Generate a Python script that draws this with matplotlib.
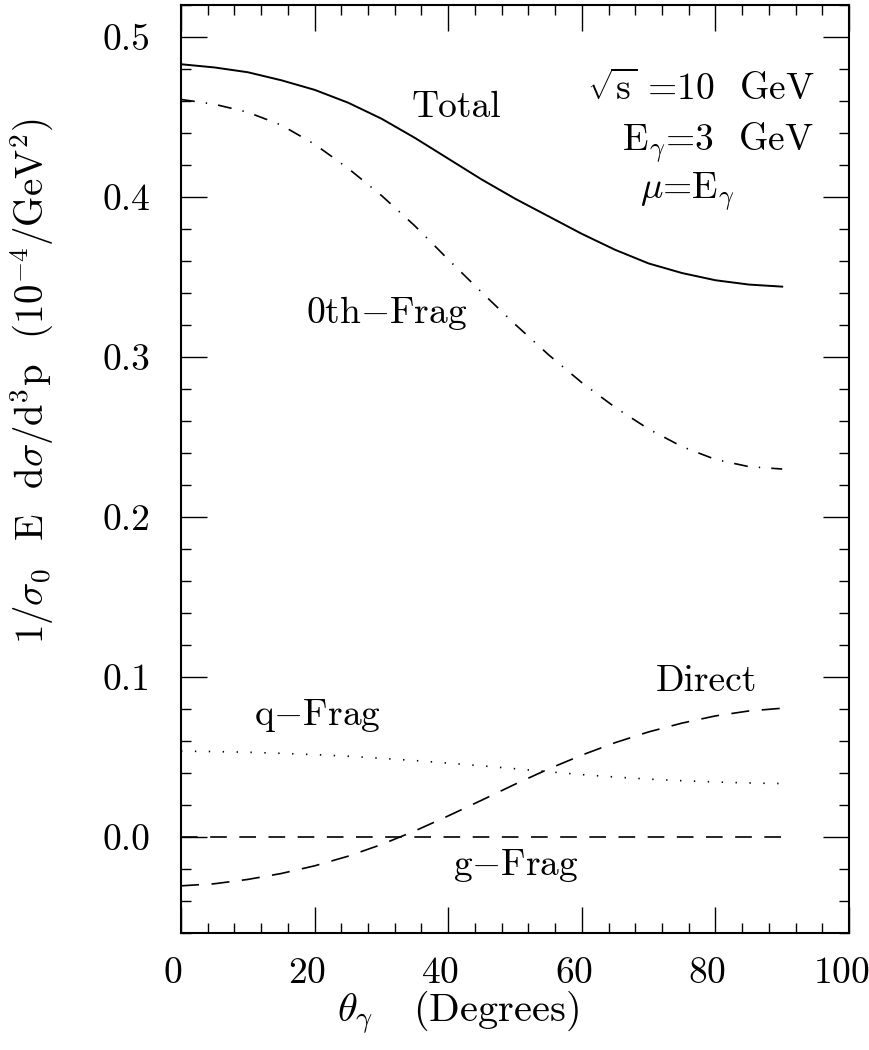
import numpy as np
import matplotlib
matplotlib.use("Agg")
import matplotlib.pyplot as plt
from matplotlib.ticker import MultipleLocator, FormatStrFormatter
from matplotlib.transforms import ScaledTranslation

plt.rcParams["font.family"] = ["cmr10", "DejaVu Serif"]
plt.rcParams["mathtext.fontset"] = "cm"
plt.rcParams["axes.formatter.use_mathtext"] = True
plt.rcParams["lines.scale_dashes"] = False

# photon angle grid (degrees) and the curves on it
theta = [0, 5, 10, 15, 20, 25, 30, 35, 40, 45, 50, 55, 60, 65, 70, 75, 80, 85, 90]
total = [0.483, 0.481, 0.478, 0.473, 0.467, 0.459, 0.449, 0.437, 0.424, 0.411,
         0.399, 0.388, 0.377, 0.367, 0.3585, 0.3525, 0.348, 0.3453, 0.344]
frag0 = [0.461, 0.458, 0.453, 0.445, 0.433, 0.418, 0.401, 0.382, 0.361, 0.3405,
         0.3205, 0.3015, 0.284, 0.2685, 0.255, 0.244, 0.236, 0.2315, 0.230]
qfrag = [0.0537, 0.0534, 0.0530, 0.0523, 0.0515, 0.0505, 0.0492, 0.0478, 0.0462, 0.0445,
         0.0427, 0.0408, 0.0390, 0.0375, 0.0362, 0.0352, 0.0344, 0.0338, 0.0334]
direct = [-0.0305, -0.0292, -0.0265, -0.0228, -0.0180, -0.0120, -0.0047, 0.0038, 0.0132, 0.0230,
          0.0330, 0.0425, 0.0512, 0.0590, 0.0657, 0.0712, 0.0757, 0.0788, 0.0805]
gfrag = [0.0] * len(theta)

fig = plt.figure(figsize=(8.69, 10.5), dpi=100)
ax = fig.add_axes([0.2083, 0.1114, 0.7687, 0.8838])

ax.plot(theta, total, color="black", lw=1.4)
ax.plot(theta, frag0, color="black", lw=1.2, dashes=(10, 8, 1, 8))
ax.plot(theta, qfrag, color="black", lw=1.2, dashes=(1, 9))
ax.plot(theta, direct, color="black", lw=1.2, dashes=(13, 9))
ax.plot(theta, gfrag, color="black", lw=1.2, dashes=(12, 9))

ax.set_xlim(0, 100)
ax.set_ylim(-0.06, 0.52)
ax.xaxis.set_major_locator(MultipleLocator(20))
ax.xaxis.set_minor_locator(MultipleLocator(4))
ax.yaxis.set_major_locator(MultipleLocator(0.1))
ax.yaxis.set_minor_locator(MultipleLocator(0.02))
ax.yaxis.set_major_formatter(FormatStrFormatter("%.1f"))
ax.tick_params(which="both", direction="in", top=True, right=True, width=1.0,
               labelsize=27)
ax.tick_params(axis="x", pad=17)
ax.tick_params(axis="y", pad=22)
ax.tick_params(which="major", length=19)
ax.tick_params(which="minor", length=7)
for s in ax.spines.values():
    s.set_linewidth(1.5)

# x tick numbers sit a little left of their ticks
shift = ScaledTranslation(-8 / 100, 0, fig.dpi_scale_trans)
for lab in ax.get_xticklabels():
    lab.set_transform(lab.get_transform() + shift)

ax.set_xlabel(r"$\theta_\gamma$   (Degrees)", fontsize=29)
ax.xaxis.set_label_coords(0.415, -0.060)
ax.set_ylabel(r"1/$\sigma_0$  E  d$\sigma$/d$^3$p  (10$^{-4}$/GeV$^2$)", fontsize=28)
ax.yaxis.set_label_coords(-0.189, 0.595)

fs = 27
ax.text(41.2, 0.4500, "Total", fontsize=fs, ha="center", va="baseline")
ax.text(30.8, 0.3215, r"0th$-$Frag", fontsize=fs, ha="center", va="baseline")
ax.text(20.4, 0.0703, r"q$-$Frag", fontsize=fs, ha="center", va="baseline")
ax.text(78.7, 0.0910, "Direct", fontsize=fs, ha="center", va="baseline")
ax.text(50.1, -0.0239, r"g$-$Frag", fontsize=fs, ha="center", va="baseline")

ax.text(94.9, 0.4610, r"$\sqrt{\rm s}$ =10  GeV", fontsize=fs, ha="right", va="baseline")
ax.text(94.6, 0.4290, r"E$_\gamma$=3  GeV", fontsize=fs, ha="right", va="baseline")
ax.text(68.7, 0.3990, r"$\mu$=E$_\gamma$", fontsize=fs, ha="left", va="baseline")

fig.savefig("out.png", dpi=100)
